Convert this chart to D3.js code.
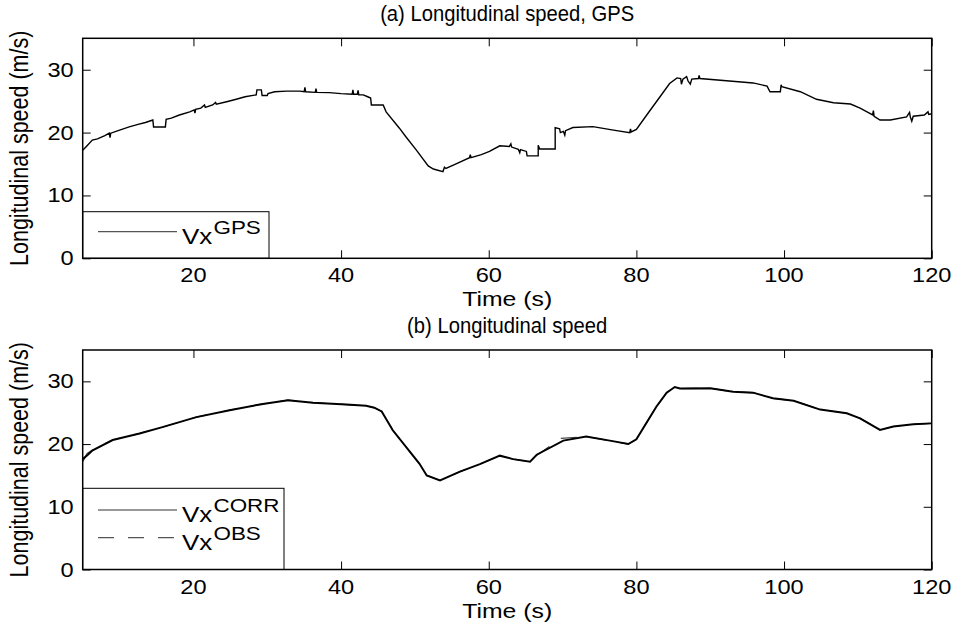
<!DOCTYPE html>
<html>
<head>
<meta charset="utf-8">
<script src="https://cdn.jsdelivr.net/npm/d3@7"></script>
<style>
  html, body { margin: 0; padding: 0; background: #fff; }
  svg { display: block; }
  text { font-family: "Liberation Sans", Arial, Helvetica, sans-serif; fill: #000; }
</style>
</head>
<body>
<svg id="chart" width="957" height="629"></svg>
<script>
// ---------- data ----------
const xTicks = [20, 40, 60, 80, 100, 120];
const yTicks = [0, 10, 20, 30];
const titles = ["(a) Longitudinal speed, GPS", "(b) Longitudinal speed"];
const xLabel = "Time (s)";
const yLabel = "Longitudinal speed (m/s)";

const gpsTime = [5.0,5.5,6.3,7.0,8.0,8.6,8.7,8.8,10.0,11.3,12.5,13.5,14.5,14.6,16.2,16.3,17.0,18.1,19.5,20.1,20.2,20.3,21.0,21.5,21.6,22.6,23.0,23.1,24.5,25.8,27.0,28.5,28.6,29.2,29.3,30.0,30.1,31.0,32.6,34.4,35.0,35.1,35.2,36.5,36.6,36.7,38.4,40.0,41.5,41.6,41.7,42.2,42.3,42.4,43.0,43.6,44.0,44.1,45.7,46.1,47.9,48.8,50.2,51.8,52.5,53.8,54.0,54.2,55.5,57.4,57.5,57.6,59.0,60.1,61.5,62.8,63.0,63.1,64.0,64.2,64.3,65.1,65.2,66.7,66.7,66.9,69.0,69.0,69.6,69.7,70.1,70.3,70.4,71.4,74.1,76.9,79.1,79.2,79.3,80.0,81.4,83.2,84.5,85.5,86.0,86.1,86.3,86.8,87.0,87.3,87.5,88.4,88.5,88.6,92.2,95.8,97.7,98.1,99.5,99.6,99.7,102.2,104.4,106.7,109.0,110.3,112.0,112.1,112.2,113.0,114.4,116.6,117.0,117.1,117.3,117.5,119.0,119.5,119.6,120.0];
const gpsSpeed = [17.2,17.8,18.8,19.0,19.5,19.9,19.2,19.9,20.4,20.9,21.3,21.6,22.0,20.9,20.9,22.1,22.3,22.8,23.3,23.6,23.1,23.7,23.9,24.4,24.0,24.4,24.8,24.5,24.9,25.3,25.7,26.0,26.8,26.8,25.9,25.9,26.2,26.5,26.6,26.6,26.5,27.2,26.5,26.4,27.0,26.4,26.35,26.2,26.1,26.8,26.1,26.1,26.7,26.0,26.0,25.7,25.5,24.4,24.4,23.3,20.7,19.3,17.2,14.7,14.2,13.8,14.5,14.3,15.0,16.0,16.5,16.0,16.5,17.0,17.9,17.8,18.2,17.7,17.35,16.8,17.3,17.0,16.3,16.3,18.0,17.4,17.4,20.8,20.6,20.0,20.2,19.6,20.3,20.8,20.95,20.4,20.0,20.6,20.1,20.5,22.8,25.7,27.8,28.7,28.6,27.7,28.5,28.9,28.2,27.7,28.5,28.6,29.1,28.6,28.25,27.9,27.4,26.5,26.5,27.6,27.3,26.5,25.3,24.75,24.55,23.9,22.8,23.5,22.6,22.0,22.0,22.5,23.2,22.5,21.8,22.6,22.8,23.3,22.9,23.0];

const corrTime = [5.0,5.7,6.35,9.06,12.7,15.8,20.4,24.9,29.4,32.8,36.2,40.7,43.4,44.5,45.5,47.0,50.6,51.6,53.4,56.1,58.8,61.5,63.3,65.6,66.5,70.1,73.2,76.4,78.9,80.0,82.7,84.1,85.2,85.9,90.0,93.1,95.8,98.5,101.3,104.9,108.5,110.3,113.0,114.8,117.5,120.0];
const corrSpeed = [17.6,18.3,19.0,20.65,21.7,22.7,24.3,25.4,26.4,27.0,26.6,26.3,26.1,25.8,25.2,22.2,16.9,15.0,14.2,15.6,16.8,18.15,17.6,17.2,18.3,20.55,21.2,20.55,20.0,20.75,25.96,28.2,29.1,28.85,28.9,28.35,28.2,27.3,26.9,25.5,24.9,24.1,22.25,22.8,23.15,23.3];

const obsTime = [5.0,5.6,6.4,9.06,12.7,15.8,20.4,24.9,29.4,32.8,36.2,40.7,43.4,44.5,45.5,47.0,50.6,51.6,53.4,56.1,58.8,61.5,63.3,65.6,66.5,69.8,73.2,76.4,78.9,80.0,82.7,84.1,85.2,85.9,90.0,93.1,95.8,98.5,101.3,104.9,108.5,110.3,113.0,114.8,117.5,120.0];
const obsSpeed = [17.2,18.5,19.1,20.65,21.7,22.7,24.3,25.4,26.4,27.0,26.6,26.3,26.1,25.8,25.2,22.2,16.9,15.0,14.2,15.6,16.8,18.15,17.6,17.2,18.2,20.9,21.2,20.55,20.0,20.75,25.96,28.2,29.1,28.85,28.9,28.35,28.2,27.3,26.9,25.5,24.9,24.1,22.25,22.8,23.15,23.3];

// ---------- layout ----------
const svg = d3.select("#chart");
const SX = 1.18;           // horizontal stretch of the text in the reference
const left = 82.7, right = 931.7;
const panels = [
  { top: 38.3, bottom: 258.3 },
  { top: 350.0, bottom: 569.5 }
];
const x = d3.scaleLinear().domain([5, 120]).range([left, right]);

function stext(g, str, tx, ty, size, anchor, sx) {
  return g.append("text")
    .attr("transform", `translate(${tx},${ty}) scale(${sx === undefined ? SX : sx},1)`)
    .attr("text-anchor", anchor || "middle")
    .style("font-size", size + "px")
    .text(str);
}

function drawPanel(p, idx) {
  const g = svg.append("g");
  const y = d3.scaleLinear().domain([0, 35]).range([p.bottom, p.top]);
  p.y = y;

  // ticks (inward, all four sides)
  g.append("g").attr("transform", `translate(0,${p.bottom})`)
    .call(d3.axisBottom(x).tickValues(xTicks).tickSizeInner(-8).tickSizeOuter(0).tickFormat(""))
    .call(s => s.select(".domain").remove());
  g.append("g").attr("transform", `translate(0,${p.top})`)
    .call(d3.axisTop(x).tickValues(xTicks).tickSizeInner(-8).tickSizeOuter(0).tickFormat(""))
    .call(s => s.select(".domain").remove());
  g.append("g").attr("transform", `translate(${left},0)`)
    .call(d3.axisLeft(y).tickValues(yTicks).tickSizeInner(-8).tickSizeOuter(0).tickFormat(""))
    .call(s => s.select(".domain").remove());
  g.append("g").attr("transform", `translate(${right},0)`)
    .call(d3.axisRight(y).tickValues(yTicks).tickSizeInner(-8).tickSizeOuter(0).tickFormat(""))
    .call(s => s.select(".domain").remove());
  g.selectAll(".tick line").attr("stroke", "#000").attr("stroke-width", 1);

  // tick labels
  xTicks.forEach(t => stext(g, String(t), x(t), p.bottom + 24, 20, "middle"));
  yTicks.forEach(t => stext(g, String(t), left - 9, y(t) + 7, 20, "end"));

  // axis titles
  stext(g, xLabel, (left + right) / 2, p.bottom + 48, 21, "middle");
  g.append("text")
    .attr("transform", `translate(28,${(p.top + p.bottom) / 2}) scale(${SX},1) rotate(-90)`)
    .attr("text-anchor", "middle")
    .style("font-size", "21.5px")
    .text(yLabel);
  stext(g, titles[idx], (left + right) / 2, p.top - 17, 22, "middle", 0.92);

  return g;
}

const gTop = drawPanel(panels[0], 0);
const gBot = drawPanel(panels[1], 1);

// ---------- lines ----------
const yA = panels[0].y, yB = panels[1].y;
svg.append("clipPath").attr("id", "clipA").append("rect")
  .attr("x", left).attr("y", panels[0].top).attr("width", right - left).attr("height", panels[0].bottom - panels[0].top);
svg.append("clipPath").attr("id", "clipB").append("rect")
  .attr("x", left).attr("y", panels[1].top).attr("width", right - left).attr("height", panels[1].bottom - panels[1].top);

const gpsData = gpsTime.map((t, i) => [t, gpsSpeed[i]]);
const corrData = corrTime.map((t, i) => [t, corrSpeed[i]]);
const obsData = obsTime.map((t, i) => [t, obsSpeed[i]]);

gTop.append("path").datum(gpsData)
  .attr("clip-path", "url(#clipA)")
  .attr("fill", "none").attr("stroke", "#000").attr("stroke-width", 1.4)
  .attr("stroke-linejoin", "miter")
  .attr("d", d3.line().x(d => x(d[0])).y(d => yA(d[1])));

gBot.append("path").datum(obsData)
  .attr("clip-path", "url(#clipB)")
  .attr("fill", "none").attr("stroke", "#444").attr("stroke-width", 1.2)
  .attr("stroke-dasharray", "16,14")
  .attr("d", d3.line().x(d => x(d[0])).y(d => yB(d[1])));
gBot.append("path").datum(corrData)
  .attr("clip-path", "url(#clipB)")
  .attr("fill", "none").attr("stroke", "#000").attr("stroke-width", 2)
  .attr("d", d3.line().x(d => x(d[0])).y(d => yB(d[1])));

// ---------- legends ----------
function supText(g, tx, ty, base, sup) {
  const t = g.append("text")
    .attr("transform", `translate(${tx},${ty}) scale(${SX},1)`)
    .style("font-size", "22px");
  t.append("tspan").text(base);
  t.append("tspan").attr("dx", 1).attr("dy", -10).style("font-size", "19px").text(sup);
}

// top legend
gTop.append("rect").attr("x", left).attr("y", 211.7).attr("width", 269 - left).attr("height", panels[0].bottom - 211.7)
  .attr("fill", "#fff").attr("stroke", "#000").attr("stroke-width", 1);
gTop.append("line").attr("x1", 98).attr("x2", 177).attr("y1", 231.7).attr("y2", 231.7)
  .attr("stroke", "#555").attr("stroke-width", 1.3);
supText(gTop, 182, 244, "Vx", "GPS");

// bottom legend
gBot.append("rect").attr("x", left).attr("y", 488.3).attr("width", 284 - left).attr("height", panels[1].bottom - 488.3)
  .attr("fill", "#fff").attr("stroke", "#000").attr("stroke-width", 1);
gBot.append("line").attr("x1", 98).attr("x2", 177).attr("y1", 510).attr("y2", 510)
  .attr("stroke", "#333").attr("stroke-width", 1.2);
supText(gBot, 182, 522, "Vx", "CORR");
gBot.append("line").attr("x1", 98).attr("x2", 177).attr("y1", 537.7).attr("y2", 537.7)
  .attr("stroke", "#555").attr("stroke-width", 1.2).attr("stroke-dasharray", "16,14");
supText(gBot, 182, 549.5, "Vx", "OBS");

// ---------- frames ----------
panels.forEach(p => {
  svg.append("rect").attr("x", left).attr("y", p.top).attr("width", right - left).attr("height", p.bottom - p.top)
    .attr("fill", "none").attr("stroke", "#000").attr("stroke-width", 1.5);
});
</script>
</body>
</html>
